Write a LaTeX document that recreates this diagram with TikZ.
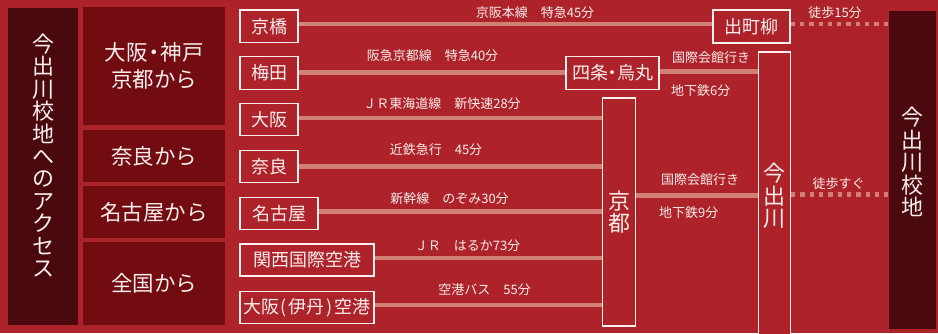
\documentclass[tikz,border=0pt]{standalone}
\usepackage{fontspec}
\setmainfont{Noto Sans CJK JP}
\definecolor{bg}{RGB}{174,35,42}
\definecolor{dark}{RGB}{74,9,12}
\definecolor{cat}{RGB}{114,12,17}
\definecolor{rail}{RGB}{210,128,118}
\definecolor{txt}{RGB}{250,238,238}
\newcommand{\ndot}[1]{\makebox[#1]{・}}
\newcommand{\npar}[1]{\makebox[10pt]{#1}}
\begin{document}
\begin{tikzpicture}[x=1pt,y=-1pt,
  stbox/.style={draw=txt, line width=1.2pt, fill=bg, text=txt, inner sep=0pt,
    font=\fontsize{18}{18}\selectfont},
  catbox/.style={fill=cat, text=txt, inner sep=0pt, minimum width=142pt, align=center,
    font=\fontsize{21.5}{27}\selectfont},
  darkbox/.style={fill=dark, inner sep=0pt},
  vtext/.style={text=txt, inner sep=0pt, align=center, font=\fontsize{22}{22.4}\selectfont},
  lbl/.style={text=txt, inner sep=0pt, font=\fontsize{13}{13}\selectfont},
  rail/.style={draw=rail, line width=4.8pt},
  walk/.style={draw=rail, line width=4.3pt, dash pattern=on 4.3pt off 5pt}]
\useasboundingbox (0,0) rectangle (938,333);
\fill[bg] (0,0) rectangle (938,333);
% left column
\node[darkbox, minimum width=70pt, minimum height=317pt] (leftbox) at (43,166.5) {};
\node[vtext] (lefttext) at (43,155.5) {今\\出\\川\\校\\地\\へ\\の\\ア\\ク\\セ\\ス};
% categories
\node[catbox, minimum height=118pt] (cat1) at (154,66) {大阪\ndot{13pt}神戸\\京都から};
\node[catbox, minimum height=52pt] (cat2) at (154,156) {奈良から};
\node[catbox, minimum height=52pt] (cat3) at (154,212) {名古屋から};
\node[catbox, minimum height=83pt] (cat4) at (154,283.5) {全国から};
% right campus
\node[darkbox, minimum width=47pt, minimum height=318pt] (campus) at (912.5,170) {};
\node[vtext] (campustext) at (912.5,162) {今\\出\\川\\校\\地};
% stations
\node[stbox, minimum width=58pt, minimum height=32.5pt] (kyobashi) at (269,26.3) {京橋};
\node[stbox, minimum width=58pt, minimum height=32.5pt] (umeda) at (269,73) {梅田};
\node[stbox, minimum width=58pt, minimum height=32.5pt] (osaka) at (269,119.5) {大阪};
\node[stbox, minimum width=58pt, minimum height=32.5pt] (nara) at (269,166.5) {奈良};
\node[stbox, minimum width=78pt, minimum height=32pt] (nagoya) at (279,213.5) {名古屋};
\node[stbox, minimum width=134pt, minimum height=32pt] (kansai) at (307,260) {関西国際空港};
\node[stbox, minimum width=134pt, minimum height=32pt] (itami) at (307,307.5) {大阪\npar{(}伊丹\npar{)}空港};
\node[stbox, minimum width=93pt, minimum height=32.5pt] (shijo) at (612.5,73) {四条\ndot{9pt}烏丸};
\node[stbox, minimum width=77pt, minimum height=33pt] (demachi) at (751.5,26.5) {出町柳};
\node[stbox, minimum width=32.5pt, minimum height=228pt, align=center,
  font=\fontsize{22}{22.4}\selectfont] (kyoto) at (619,212) {京\\都};
\node[stbox, minimum width=32pt, minimum height=288pt, align=center,
  font=\fontsize{22}{22.4}\selectfont] (imade) at (774.5,196) {今\\出\\川};
% rails
\draw[rail] (kyobashi.east |- 0,24) -- (demachi.west |- 0,24);
\draw[rail] (umeda.east |- 0,72.5) -- (shijo.west |- 0,72.5);
\draw[rail] (shijo.east |- 0,71.5) -- (imade.west |- 0,71.5);
\draw[rail] (osaka.east |- 0,118) -- (kyoto.west |- 0,118);
\draw[rail] (nara.east |- 0,166.5) -- (kyoto.west |- 0,166.5);
\draw[rail] (nagoya.east |- 0,211.5) -- (kyoto.west |- 0,211.5);
\draw[rail] (kansai.east |- 0,258) -- (kyoto.west |- 0,258);
\draw[rail] (itami.east |- 0,305) -- (kyoto.west |- 0,305);
\draw[rail] (kyoto.east |- 0,195.3) -- (imade.west |- 0,195.3);
\draw[walk] (demachi.east |- 0,24.3) -- (campus.west |- 0,24.3);
\draw[walk] (imade.east |- 0,194.5) -- (campus.west |- 0,194.5);
% labels
\node[lbl] (l1) at (535,12.5) {京阪本線　特急45分};
\node[lbl] (l2) at (432.5,56) {阪急京都線　特急40分};
\node[lbl] (l3) at (442,103.5) {ＪＲ東海道線　新快速28分};
\node[lbl] (l4) at (436,150) {近鉄急行　45分};
\node[lbl] (l5) at (449.5,198.5) {新幹線　のぞみ30分};
\node[lbl] (l6) at (467.5,245.5) {ＪＲ　はるか73分};
\node[lbl] (l7) at (484.7,290) {空港バス　55分};
\node[lbl] (l8) at (711,57.5) {国際会館行き};
\node[lbl, anchor=west] (l9) at (671,91) {地下鉄6分};
\node[lbl] (l10) at (835,12.5) {徒歩15分};
\node[lbl] (l11) at (700,180) {国際会館行き};
\node[lbl, anchor=west] (l12) at (659,212.5) {地下鉄9分};
\node[lbl] (l13) at (838.5,183.5) {徒歩すぐ};
\end{tikzpicture}
\end{document}
